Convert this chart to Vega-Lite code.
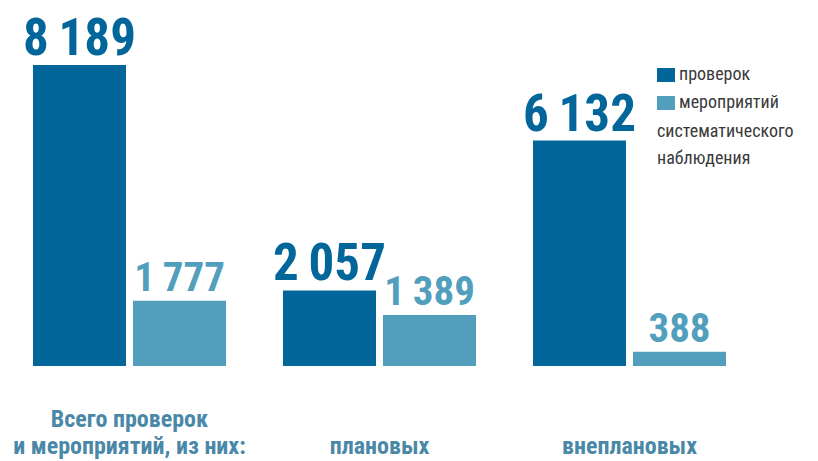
{
  "$schema": "https://vega.github.io/schema/vega-lite/v6.json",
  "autosize": "none",
  "width": 693,
  "height": 301,
  "padding": {"left": 33, "top": 65, "right": 92, "bottom": 95},
  "background": "white",
  "data": {
    "values": [
      {"category": "Всего проверок и мероприятий, из них:", "series": "проверок", "value": 8189},
      {"category": "Всего проверок и мероприятий, из них:", "series": "мероприятий систематического наблюдения", "value": 1777},
      {"category": "плановых", "series": "проверок", "value": 2057},
      {"category": "плановых", "series": "мероприятий систематического наблюдения", "value": 1389},
      {"category": "внеплановых", "series": "проверок", "value": 6132},
      {"category": "внеплановых", "series": "мероприятий систематического наблюдения", "value": 388}
    ]
  },
  "encoding": {
    "x": {
      "field": "category",
      "type": "nominal",
      "sort": null,
      "scale": {"paddingInner": 0.228, "paddingOuter": 0},
      "axis": {
        "title": null,
        "domain": false,
        "ticks": false,
        "tickSize": 0,
        "labelAngle": 0,
        "labelFont": "Roboto Condensed, DejaVu Sans Condensed, Liberation Sans Narrow, Roboto, sans-serif",
        "labelFontWeight": "bold",
        "labelFontSize": 24,
        "labelColor": "#4a88a8",
        "labelLineHeight": 27,
        "labelBaseline": "bottom",
        "labelPadding": 65,
        "labelOverlap": false,
        "labelFlush": false,
        "labelLimit": 0,
        "labelExpr": "datum.value == 'Всего проверок и мероприятий, из них:' ? ['Всего проверок', 'и мероприятий, из них:'] : ['', datum.label]"
      }
    },
    "xOffset": {
      "field": "series",
      "type": "nominal",
      "sort": null,
      "scale": {"domain": ["проверок", "мероприятий систематического наблюдения"], "paddingInner": 0.07, "paddingOuter": 0}
    },
    "y": {
      "field": "value",
      "type": "quantitative",
      "scale": {"domain": [0, 8189], "nice": false, "zero": true},
      "axis": null
    },
    "color": {
      "field": "series",
      "type": "nominal",
      "sort": null,
      "scale": {"domain": ["проверок", "мероприятий систематического наблюдения"], "range": ["#02669a", "#529fbd"]},
      "legend": {
        "orient": "none",
        "legendX": 624,
        "legendY": 1,
        "title": ["систематического", "наблюдения"],
        "titleOrient": "bottom",
        "titleAnchor": "start",
        "titleAlign": "left",
        "titleFont": "Roboto Condensed, DejaVu Sans Condensed, Liberation Sans Narrow, Roboto, sans-serif",
        "titleFontWeight": "normal",
        "titleFontSize": 18,
        "titleColor": "#3a3a3a",
        "titleLineHeight": 27,
        "titlePadding": 11,
        "titleLimit": 0,
        "labelFont": "Roboto Condensed, DejaVu Sans Condensed, Liberation Sans Narrow, Roboto, sans-serif",
        "labelFontSize": 18,
        "labelColor": "#3a3a3a",
        "labelOffset": 4,
        "labelLimit": 0,
        "labelExpr": "datum.label == 'проверок' ? 'проверок' : 'мероприятий'",
        "symbolType": "M-1,-0.78H1V0.78H-1Z",
        "symbolSize": 324,
        "symbolStrokeWidth": 0,
        "symbolOpacity": 1,
        "rowPadding": 10,
        "padding": 0
      }
    }
  },
  "layer": [
    {"mark": {"type": "bar"}},
    {
      "mark": {"type": "text", "baseline": "alphabetic", "dy": -10, "font": "Roboto Condensed, DejaVu Sans Condensed, Liberation Sans Narrow, Roboto, sans-serif", "fontWeight": "bold"},
      "encoding": {
        "text": {"field": "value", "type": "quantitative", "format": ",d"},
        "size": {"condition": {"test": "datum.series == 'проверок'", "value": 51}, "value": 41}
      }
    }
  ],
  "config": {
    "view": {"stroke": null},
    "locale": {"number": {"decimal": ",", "thousands": "\u2009", "grouping": [3], "currency": ["", " ₽"]}}
  }
}
